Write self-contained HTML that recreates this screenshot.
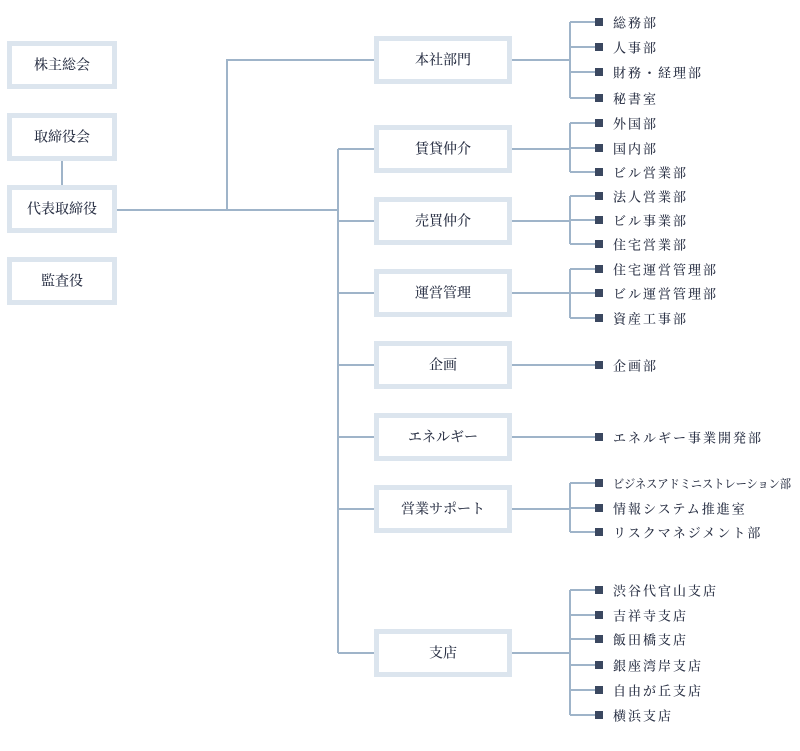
<!DOCTYPE html>
<html><head><meta charset="utf-8"><style>
html,body{margin:0;padding:0;background:#fff;}
svg{display:block;}
text{font-family:"Liberation Serif","Noto Serif CJK SC","Noto Serif CJK JP","IPAMincho",serif;fill:#2a3145;font-weight:500;}
.b{font-size:14px;text-anchor:middle;dominant-baseline:central;}
.i{font-size:13px;letter-spacing:2px;dominant-baseline:central;}
</style></head><body>
<svg width="800" height="751" viewBox="0 0 800 751" xmlns="http://www.w3.org/2000/svg">
<g fill="#fff" stroke="#dce5ee" stroke-width="5">
<rect x="9.5" y="43.5" width="105" height="43"/>
<rect x="9.5" y="115.5" width="105" height="43"/>
<rect x="9.5" y="187.5" width="105" height="43"/>
<rect x="9.5" y="259.5" width="105" height="43"/>
<rect x="376.5" y="38.5" width="133" height="43"/>
<rect x="376.5" y="127.5" width="133" height="43"/>
<rect x="376.5" y="199.5" width="133" height="43"/>
<rect x="376.5" y="271.5" width="133" height="43"/>
<rect x="376.5" y="343.5" width="133" height="43"/>
<rect x="376.5" y="415.5" width="133" height="43"/>
<rect x="376.5" y="487.5" width="133" height="43"/>
<rect x="376.5" y="631.5" width="133" height="43"/>
</g>
<g transform="translate(0,1)">
<text class="b" x="62" y="65">株主総会</text>
<text class="b" x="62" y="137">取締役会</text>
<text class="b" x="62" y="209">代表取締役</text>
<text class="b" x="62" y="281">監査役</text>
<text class="b" x="443" y="60">本社部門</text>
<text class="b" x="443" y="149">賃貸仲介</text>
<text class="b" x="443" y="221">売買仲介</text>
<text class="b" x="443" y="293">運営管理</text>
<text class="b" x="443" y="365">企画</text>
<text class="b" x="443" y="437">エネルギー</text>
<text class="b" x="443" y="509">営業サポート</text>
<text class="b" x="443" y="653">支店</text>
</g>
<g stroke="#9fb4c9" stroke-width="2" fill="none">
<path d="M62 161V185M117 210H338M227 210V60H374M338 149V653"/>
<path d="M338 149H374M338 221H374M338 293H374M338 365H374M338 437H374M338 509H374M338 653H374"/>
<path d="M512 60H570M570 22V98M570 22H596M570 47H596M570 72H596M570 98H596"/>
<path d="M512 149H570M570 123V172M570 123H596M570 148H596M570 172H596"/>
<path d="M512 221H570M570 196V244M570 196H596M570 220H596M570 244H596"/>
<path d="M512 293H570M570 269V318M570 269H596M570 293H596M570 318H596"/>
<path d="M512 365H596M512 437H596"/>
<path d="M512 509H570M570 483V532M570 483H596M570 508H596M570 532H596"/>
<path d="M512 653H570M570 590V715M570 590H596M570 615H596M570 639H596M570 665H596M570 690H596M570 715H596"/>
</g>
<g fill="#3b4860">
<rect x="595" y="18" width="8" height="8"/><rect x="595" y="43" width="8" height="8"/><rect x="595" y="68" width="8" height="8"/><rect x="595" y="94" width="8" height="8"/>
<rect x="595" y="119" width="8" height="8"/><rect x="595" y="144" width="8" height="8"/><rect x="595" y="168" width="8" height="8"/>
<rect x="595" y="192" width="8" height="8"/><rect x="595" y="216" width="8" height="8"/><rect x="595" y="240" width="8" height="8"/>
<rect x="595" y="265" width="8" height="8"/><rect x="595" y="289" width="8" height="8"/><rect x="595" y="314" width="8" height="8"/>
<rect x="595" y="361" width="8" height="8"/><rect x="595" y="433" width="8" height="8"/>
<rect x="595" y="479" width="8" height="8"/><rect x="595" y="504" width="8" height="8"/><rect x="595" y="528" width="8" height="8"/>
<rect x="595" y="586" width="8" height="8"/><rect x="595" y="611" width="8" height="8"/><rect x="595" y="635" width="8" height="8"/><rect x="595" y="661" width="8" height="8"/><rect x="595" y="686" width="8" height="8"/><rect x="595" y="711" width="8" height="8"/>
</g>
<g transform="translate(0,1)">
<text class="i" x="613" y="22">総務部</text>
<text class="i" x="613" y="47">人事部</text>
<text class="i" x="613" y="72">財務・経理部</text>
<text class="i" x="613" y="98">秘書室</text>
<text class="i" x="613" y="123">外国部</text>
<text class="i" x="613" y="148">国内部</text>
<text class="i" x="613" y="172">ビル営業部</text>
<text class="i" x="613" y="196">法人営業部</text>
<text class="i" x="613" y="220">ビル事業部</text>
<text class="i" x="613" y="244">住宅営業部</text>
<text class="i" x="613" y="269">住宅運営管理部</text>
<text class="i" x="613" y="293">ビル運営管理部</text>
<text class="i" x="613" y="318">資産工事部</text>
<text class="i" x="613" y="365">企画部</text>
<text class="i" x="613" y="437">エネルギー事業開発部</text>
<text x="613" y="483" style="font-size:12px;dominant-baseline:central;" textLength="178" lengthAdjust="spacingAndGlyphs">ビジネスアドミニストレーション部</text>
<text class="i" x="613" y="508">情報システム推進室</text>
<text class="i" x="613" y="532">リスクマネジメント部</text>
<text class="i" x="613" y="590">渋谷代官山支店</text>
<text class="i" x="613" y="615">吉祥寺支店</text>
<text class="i" x="613" y="639">飯田橋支店</text>
<text class="i" x="613" y="665">銀座湾岸支店</text>
<text class="i" x="613" y="690">自由が丘支店</text>
<text class="i" x="613" y="715">横浜支店</text>
</g>
</svg>
</body></html>
